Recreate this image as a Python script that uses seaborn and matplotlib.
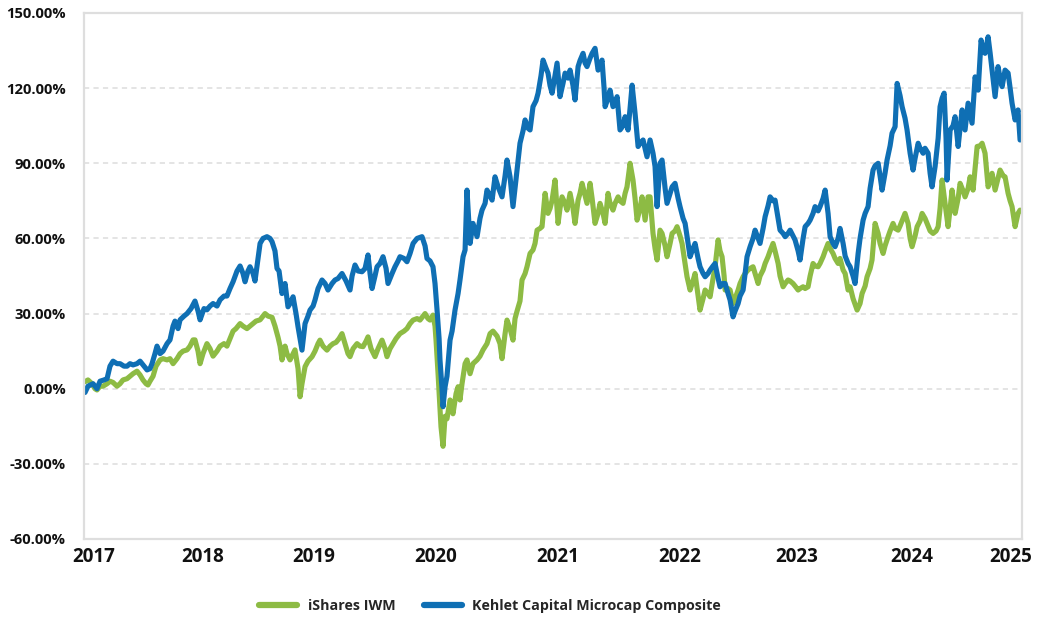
import matplotlib
matplotlib.use("Agg")
import matplotlib.pyplot as plt
import seaborn as sns
import pandas as pd
from matplotlib.ticker import FuncFormatter

# ---------------- data (decimal year, cumulative return in %) ----------------
kehlet_year = [
    2017.009, 2017.035, 2017.080, 2017.115, 2017.142, 2017.177, 2017.204, 2017.230, 2017.257, 2017.292,
    2017.319, 2017.354, 2017.381, 2017.407, 2017.434, 2017.469, 2017.496, 2017.531, 2017.558, 2017.584,
    2017.602, 2017.628, 2017.646, 2017.673, 2017.699, 2017.735, 2017.761, 2017.788, 2017.805, 2017.832,
    2017.850, 2017.885, 2017.912, 2017.947, 2017.982, 2018.009, 2018.027, 2018.062, 2018.088, 2018.115,
    2018.142, 2018.177, 2018.204, 2018.239, 2018.265, 2018.292, 2018.319, 2018.354, 2018.381, 2018.407,
    2018.425, 2018.451, 2018.469, 2018.496, 2018.513, 2018.540, 2018.558, 2018.584, 2018.619, 2018.646,
    2018.664, 2018.690, 2018.708, 2018.726, 2018.752, 2018.779, 2018.805, 2018.823, 2018.850, 2018.876,
    2018.894, 2018.929, 2018.956, 2018.982, 2019.000, 2019.027, 2019.044, 2019.071, 2019.106, 2019.133,
    2019.159, 2019.195, 2019.221, 2019.248, 2019.283, 2019.319, 2019.354, 2019.372, 2019.398, 2019.425,
    2019.460, 2019.487, 2019.513, 2019.531, 2019.549, 2019.575, 2019.593, 2019.619, 2019.646, 2019.673,
    2019.690, 2019.726, 2019.752, 2019.779, 2019.796, 2019.832, 2019.858, 2019.885, 2019.912, 2019.947,
    2019.991, 2020.018, 2020.035, 2020.062, 2020.088, 2020.106, 2020.124, 2020.142, 2020.150, 2020.168,
    2020.177, 2020.195, 2020.212, 2020.239, 2020.257, 2020.283, 2020.310, 2020.327, 2020.354, 2020.372,
    2020.389, 2020.416, 2020.442, 2020.478, 2020.504, 2020.522, 2020.549, 2020.566, 2020.593, 2020.611,
    2020.637, 2020.664, 2020.699, 2020.726, 2020.743, 2020.770, 2020.796, 2020.832, 2020.858, 2020.885,
    2020.903, 2020.929, 2020.947, 2020.973, 2021.000, 2021.018, 2021.044, 2021.062, 2021.088, 2021.106,
    2021.124, 2021.142, 2021.168, 2021.186, 2021.212, 2021.239, 2021.257, 2021.283, 2021.301, 2021.327,
    2021.345, 2021.372, 2021.389, 2021.416, 2021.434, 2021.451, 2021.478, 2021.496, 2021.522, 2021.549,
    2021.566, 2021.584, 2021.602, 2021.611, 2021.637, 2021.655, 2021.681, 2021.699, 2021.717, 2021.743,
    2021.770, 2021.788, 2021.814, 2021.832, 2021.850, 2021.876, 2021.903, 2021.920, 2021.947, 2021.982,
    2022.009, 2022.035, 2022.053, 2022.071, 2022.097, 2022.115, 2022.142, 2022.159, 2022.186, 2022.204,
    2022.230, 2022.257, 2022.274, 2022.301, 2022.319, 2022.345, 2022.363, 2022.389, 2022.407, 2022.434,
    2022.451, 2022.478, 2022.496, 2022.522, 2022.540, 2022.566, 2022.584, 2022.611, 2022.628, 2022.655,
    2022.673, 2022.699, 2022.717, 2022.743, 2022.761, 2022.788, 2022.805, 2022.832, 2022.850, 2022.867,
    2022.894, 2022.920, 2022.938, 2022.965, 2022.982, 2023.009, 2023.027, 2023.053, 2023.071, 2023.097,
    2023.115, 2023.142, 2023.159, 2023.186, 2023.204, 2023.230, 2023.248, 2023.274, 2023.292, 2023.319,
    2023.336, 2023.363, 2023.381, 2023.407, 2023.425, 2023.451, 2023.469, 2023.496, 2023.513, 2023.540,
    2023.558, 2023.584, 2023.602, 2023.628, 2023.646, 2023.673, 2023.690, 2023.717, 2023.735, 2023.761,
    2023.779, 2023.805, 2023.823, 2023.850, 2023.867, 2023.894, 2023.912, 2023.938, 2023.956, 2023.982,
    2024.000, 2024.027, 2024.044, 2024.062, 2024.088, 2024.106, 2024.133, 2024.150, 2024.177, 2024.195,
    2024.221, 2024.239, 2024.265, 2024.283, 2024.310, 2024.336, 2024.354, 2024.381, 2024.398, 2024.425,
    2024.442, 2024.469, 2024.487, 2024.504, 2024.531, 2024.558, 2024.575, 2024.593, 2024.611, 2024.628,
    2024.637, 2024.664, 2024.690, 2024.708, 2024.735, 2024.752, 2024.770, 2024.796, 2024.823, 2024.841,
    2024.858, 2024.885, 2024.912, 2024.938, 2024.956, 2024.973, 2025.000, 2025.018, 2025.035, 2025.062,
    2025.088, 2025.106, 2025.124, 2025.150, 2025.177, 2025.195, 2025.212, 2025.239, 2025.265, 2025.283,
]
kehlet_return = [
    -1.5, 1, 2, 0, 3, 3.5, 4, 9, 11, 10,
    10, 9, 9, 10, 9.5, 10, 11, 9, 7.5, 8,
    10, 14, 17, 14, 15, 18, 19.5, 25, 27, 24,
    27.5, 29, 30, 32, 35, 31, 27.5, 32, 31.5, 33,
    34, 33, 35.5, 37, 37, 40, 42.7, 47, 49, 46,
    42.7, 47, 48.7, 46, 43, 52, 58, 60, 60.7, 60,
    58.7, 55, 48, 47, 38, 42, 32.7, 34, 36.7, 30,
    24.7, 15.4, 26, 29, 31.4, 33, 35.4, 40, 43.4, 42,
    39.4, 42, 43.4, 44, 46, 43, 39.4, 45, 49.4, 47,
    46.7, 48, 53.4, 46, 40, 45, 48.7, 50, 52.7, 48,
    42, 46, 48.7, 51, 52.7, 52, 50.7, 54, 58, 60,
    60.7, 57, 52, 51, 48.7, 42, 31.4, 20, 11.5, 0,
    -7.2, 0.8, 5, 19.4, 23, 31.4, 38, 43.4, 52.7, 55.4,
    79.3, 58, 66, 60.7, 68, 71.3, 74, 79.3, 77, 75.3,
    84.6, 80.6, 76.6, 85, 91.3, 84.6, 72.7, 87.3, 98, 103,
    107.3, 104, 103.3, 112.6, 115, 118, 125, 131.2, 128, 126,
    121, 118, 125, 130, 116.6, 122, 126, 124, 127.2, 121,
    115.3, 128.6, 131, 133.9, 130, 128.6, 132, 133.9, 135.9, 127.2,
    129, 131.2, 120, 112.6, 116, 119.2, 112.6, 114, 116.6, 103.3,
    105, 108.6, 103.3, 112, 121.2, 110, 96.7, 98, 99.3, 92.6,
    99.3, 94, 88.7, 72.7, 90, 91.3, 80, 74, 78, 80.6,
    82, 76, 72.7, 68, 66, 58, 52.7, 56, 58, 52,
    48.7, 46, 44.7, 46, 47.4, 49, 50, 44, 40.7, 42,
    42, 38, 35.4, 28.7, 31, 34, 37, 39.4, 46, 52.7,
    56.7, 60, 63.3, 60, 58, 64, 68.7, 73, 76.6, 75,
    75.3, 68, 63.3, 62, 60.7, 62, 63.3, 61, 59.4, 55,
    51.4, 60, 64.7, 66, 67.3, 70, 72.7, 71, 72.7, 76,
    79.3, 70, 60.7, 58, 56.7, 60, 64, 58, 53, 50,
    48.7, 45, 42, 54, 60, 67.3, 70, 72.7, 80, 87.3,
    89, 90, 85, 79.3, 86, 91.3, 97, 102, 104.6, 121.9,
    117, 112.6, 108, 103.3, 94, 87.3, 92, 98, 96, 94,
    96, 94, 86, 80.6, 88.7, 100, 112.6, 116, 118, 100,
    83.3, 103.3, 105, 108.6, 96.7, 104, 111.3, 103.3, 114, 110,
    106, 124.5, 119.2, 139.2, 135, 133.9, 140.5, 134, 127.2, 116.6,
    128.6, 124, 120.6, 127.2, 126, 120, 114, 107.3, 111.3, 99.3,
]

iwm_year = [
    2017.009, 2017.035, 2017.071, 2017.097, 2017.115, 2017.142, 2017.168, 2017.204, 2017.230, 2017.257,
    2017.292, 2017.319, 2017.345, 2017.381, 2017.407, 2017.434, 2017.469, 2017.496, 2017.522, 2017.549,
    2017.566, 2017.584, 2017.611, 2017.637, 2017.673, 2017.699, 2017.735, 2017.761, 2017.788, 2017.823,
    2017.850, 2017.876, 2017.912, 2017.938, 2017.965, 2017.982, 2018.009, 2018.027, 2018.053, 2018.088,
    2018.115, 2018.142, 2018.177, 2018.204, 2018.239, 2018.265, 2018.292, 2018.319, 2018.345, 2018.381,
    2018.407, 2018.442, 2018.469, 2018.496, 2018.522, 2018.558, 2018.584, 2018.602, 2018.628, 2018.664,
    2018.690, 2018.717, 2018.735, 2018.752, 2018.779, 2018.796, 2018.823, 2018.850, 2018.867, 2018.894,
    2018.912, 2018.929, 2018.956, 2018.982, 2019.018, 2019.044, 2019.071, 2019.088, 2019.115, 2019.150,
    2019.177, 2019.204, 2019.230, 2019.257, 2019.283, 2019.310, 2019.336, 2019.354, 2019.381, 2019.416,
    2019.442, 2019.469, 2019.496, 2019.513, 2019.540, 2019.575, 2019.602, 2019.637, 2019.664, 2019.681,
    2019.708, 2019.735, 2019.761, 2019.796, 2019.832, 2019.858, 2019.885, 2019.912, 2019.947, 2019.973,
    2020.000, 2020.018, 2020.044, 2020.062, 2020.088, 2020.106, 2020.115, 2020.133, 2020.150, 2020.159,
    2020.177, 2020.195, 2020.212, 2020.239, 2020.265, 2020.292, 2020.310, 2020.327, 2020.345, 2020.372,
    2020.389, 2020.416, 2020.442, 2020.478, 2020.504, 2020.531, 2020.566, 2020.593, 2020.619, 2020.655,
    2020.681, 2020.699, 2020.726, 2020.743, 2020.770, 2020.796, 2020.814, 2020.832, 2020.858, 2020.876,
    2020.903, 2020.920, 2020.947, 2020.973, 2020.991, 2021.009, 2021.035, 2021.053, 2021.080, 2021.106,
    2021.124, 2021.142, 2021.168, 2021.195, 2021.212, 2021.230, 2021.257, 2021.274, 2021.301, 2021.327,
    2021.345, 2021.372, 2021.389, 2021.407, 2021.434, 2021.451, 2021.478, 2021.496, 2021.522, 2021.549,
    2021.566, 2021.593, 2021.611, 2021.637, 2021.655, 2021.681, 2021.699, 2021.726, 2021.743, 2021.770,
    2021.788, 2021.805, 2021.832, 2021.858, 2021.876, 2021.894, 2021.920, 2021.938, 2021.965, 2021.991,
    2022.009, 2022.035, 2022.053, 2022.071, 2022.097, 2022.115, 2022.142, 2022.159, 2022.186, 2022.204,
    2022.230, 2022.248, 2022.274, 2022.292, 2022.319, 2022.336, 2022.363, 2022.389, 2022.407, 2022.434,
    2022.451, 2022.478, 2022.496, 2022.522, 2022.540, 2022.566, 2022.584, 2022.611, 2022.628, 2022.646,
    2022.664, 2022.673, 2022.699, 2022.717, 2022.743, 2022.761, 2022.788, 2022.805, 2022.832, 2022.850,
    2022.876, 2022.894, 2022.920, 2022.938, 2022.965, 2022.982, 2023.009, 2023.027, 2023.053, 2023.071,
    2023.097, 2023.115, 2023.142, 2023.159, 2023.186, 2023.204, 2023.230, 2023.248, 2023.274, 2023.292,
    2023.319, 2023.336, 2023.363, 2023.381, 2023.407, 2023.425, 2023.451, 2023.469, 2023.496, 2023.513,
    2023.540, 2023.558, 2023.584, 2023.602, 2023.628, 2023.646, 2023.673, 2023.690, 2023.717, 2023.735,
    2023.761, 2023.779, 2023.805, 2023.841, 2023.867, 2023.885, 2023.912, 2023.929, 2023.956, 2023.973,
    2024.000, 2024.027, 2024.044, 2024.071, 2024.088, 2024.115, 2024.133, 2024.159, 2024.177, 2024.204,
    2024.221, 2024.248, 2024.265, 2024.292, 2024.310, 2024.327, 2024.354, 2024.372, 2024.398, 2024.416,
    2024.442, 2024.460, 2024.487, 2024.513, 2024.540, 2024.558, 2024.575, 2024.593, 2024.619, 2024.646,
    2024.664, 2024.681, 2024.708, 2024.735, 2024.752, 2024.779, 2024.796, 2024.823, 2024.841, 2024.867,
    2024.885, 2024.903, 2024.929, 2024.947, 2024.973, 2025.000, 2025.018, 2025.035, 2025.062, 2025.088,
    2025.106, 2025.133, 2025.150, 2025.177, 2025.195, 2025.212, 2025.239, 2025.265, 2025.283,
]
iwm_return = [
    2.8, 3.5, 2, 0, -0.5, 1, 1, 2, 3, 2.5,
    1, 2, 3.5, 4, 5, 6, 7, 5.5, 3.5, 2,
    1.5, 3, 5, 9, 11.5, 12, 11.5, 12, 10, 12,
    14, 15, 15.5, 17, 19.5, 19.5, 15, 10, 14, 18,
    16, 13, 15, 17, 18, 17, 20, 23, 24, 26,
    25, 24, 25, 26, 27, 27.5, 29, 30, 29, 28.5,
    25, 20.5, 17, 11.5, 17, 14, 11.5, 14, 15.5, 8,
    -3.2, 2, 8.8, 11, 12.8, 15, 18, 19.4, 17, 15.4,
    17, 18, 18.5, 20, 22, 18, 14, 12.8, 16, 18,
    17, 16.8, 19, 20.7, 16, 12.8, 16, 19.4, 16, 12.8,
    16, 18, 20, 22, 23, 24, 26, 27.4, 28, 27.4,
    29, 30, 28, 27.4, 29.4, 25, 19.4, 6, -8, -15.2,
    -23, -11, -12, -4.5, -10, -2, 0.8, -4.5, 2, 10,
    11.5, 6, 10, 11.5, 13, 15.5, 18, 22, 23, 21,
    18, 12, 22, 27.4, 24, 19.4, 28, 31, 35, 43.4,
    46, 48.7, 54, 55.4, 58, 63.3, 64, 64.7, 78, 70,
    72, 75.3, 83.3, 66, 72, 76.6, 74, 71.3, 78, 72,
    66, 75.3, 78, 82, 77, 74, 82, 76, 66, 70,
    74, 70, 66, 78, 74, 71.3, 74, 76.6, 75, 74,
    78, 80.6, 90, 83.3, 76, 67.3, 72, 76.6, 67.3, 76.6,
    76.6, 62, 56, 51.4, 63.3, 62, 57, 52.7, 58, 62,
    63, 64.7, 61, 58, 50, 44.7, 39.4, 43, 46, 37,
    31.4, 36, 39.4, 38, 36.7, 44, 48.7, 59.4, 55, 52.7,
    45, 39.4, 40, 39.4, 34, 36, 39.4, 42, 44.7, 46,
    47.4, 48, 48.7, 46, 42, 45, 47.4, 50, 52.7, 55,
    58, 55, 50, 45, 40.7, 42, 43.4, 43, 42, 41,
    39.4, 40, 40.7, 40, 40.7, 45, 50, 49, 48.7, 50,
    52.7, 55, 58, 56, 54, 52, 50, 52, 47.4, 46,
    39.4, 40.7, 36, 31.4, 34, 38, 41, 44.7, 48, 51.4,
    66, 62, 58, 54, 57, 60.7, 63, 66, 64, 63.3,
    65, 68, 70, 66, 60, 56.7, 61, 64.7, 67, 70,
    68, 66, 63, 62, 63, 64.7, 72, 83.3, 74, 64.7,
    72, 79.3, 70, 76, 82, 79, 76.6, 80, 84.6, 79.3,
    88, 96.7, 97, 98, 94, 80.6, 83, 86, 79.3, 84,
    87.3, 85, 84.6, 78, 75, 72.7, 64.7, 70, 71.3,
]

series_names = ["iShares IWM", "Kehlet Capital Microcap Composite"]
series_colors = ["#8dbb44", "#0f6fb4"]
year_labels = ["2017", "2018", "2019", "2020", "2021", "2022", "2023", "2024", "2025"]
year_label_pos = [2017.088, 2018.053, 2019.035, 2020.115, 2021.195, 2022.274, 2023.310, 2024.327, 2025.204]
y_ticks = [-60, -30, 0, 30, 60, 90, 120, 150]

# ---------------- build frame ----------------
df = pd.concat([
    pd.DataFrame({"year": iwm_year, "ret": iwm_return, "series": series_names[0]}),
    pd.DataFrame({"year": kehlet_year, "ret": kehlet_return, "series": series_names[1]}),
], ignore_index=True)

sns.set_style("white")
plt.rcParams["font.family"] = ["Open Sans", "DejaVu Sans"]

fig = plt.figure(figsize=(10.38, 6.42), dpi=100)
ax = fig.add_axes([84 / 1038, 1 - 539 / 642, (1022 - 84) / 1038, (539 - 13) / 642])

sns.lineplot(data=df, x="year", y="ret", hue="series", hue_order=series_names,
             palette=series_colors, estimator=None, sort=True, linewidth=3.7,
             ax=ax, legend=True)

ax.set_xlim(2017.0, 2025.30)
ax.set_ylim(-60, 150)
ax.set_yticks(y_ticks)
ax.yaxis.set_major_formatter(FuncFormatter(lambda v, p: f"{v:.2f}%"))
ax.set_xticks(year_label_pos)
ax.set_xticklabels(year_labels)
ax.set_xlabel("")
ax.set_ylabel("")

ax.tick_params(axis="y", length=0, pad=13, labelsize=10.6, labelcolor="#111111")
ax.tick_params(axis="x", length=0, pad=6, labelsize=13.5, labelcolor="#111111")
for lab in ax.get_xticklabels() + ax.get_yticklabels():
    lab.set_fontweight("bold")

ax.yaxis.grid(True, color="#dcdcdc", linewidth=1.1, linestyle=(0, (3.4, 2.8)))
ax.xaxis.grid(False)
ax.set_axisbelow(True)
for s in ax.spines.values():
    s.set_visible(True)
    s.set_color("#dedede")
    s.set_linewidth(1.6)

handles, labels = ax.get_legend_handles_labels()
ax.get_legend().remove()
for h in handles:
    h.set_linewidth(4.5)
leg = fig.legend(handles, labels, loc="center", bbox_to_anchor=(490 / 1038, 1 - 606 / 642),
                 ncol=2, frameon=False, handlelength=2.65, handletextpad=0.75,
                 columnspacing=2.0, prop={"weight": "bold", "size": 10.3})

fig.savefig("out.png", dpi=100, facecolor="white")
